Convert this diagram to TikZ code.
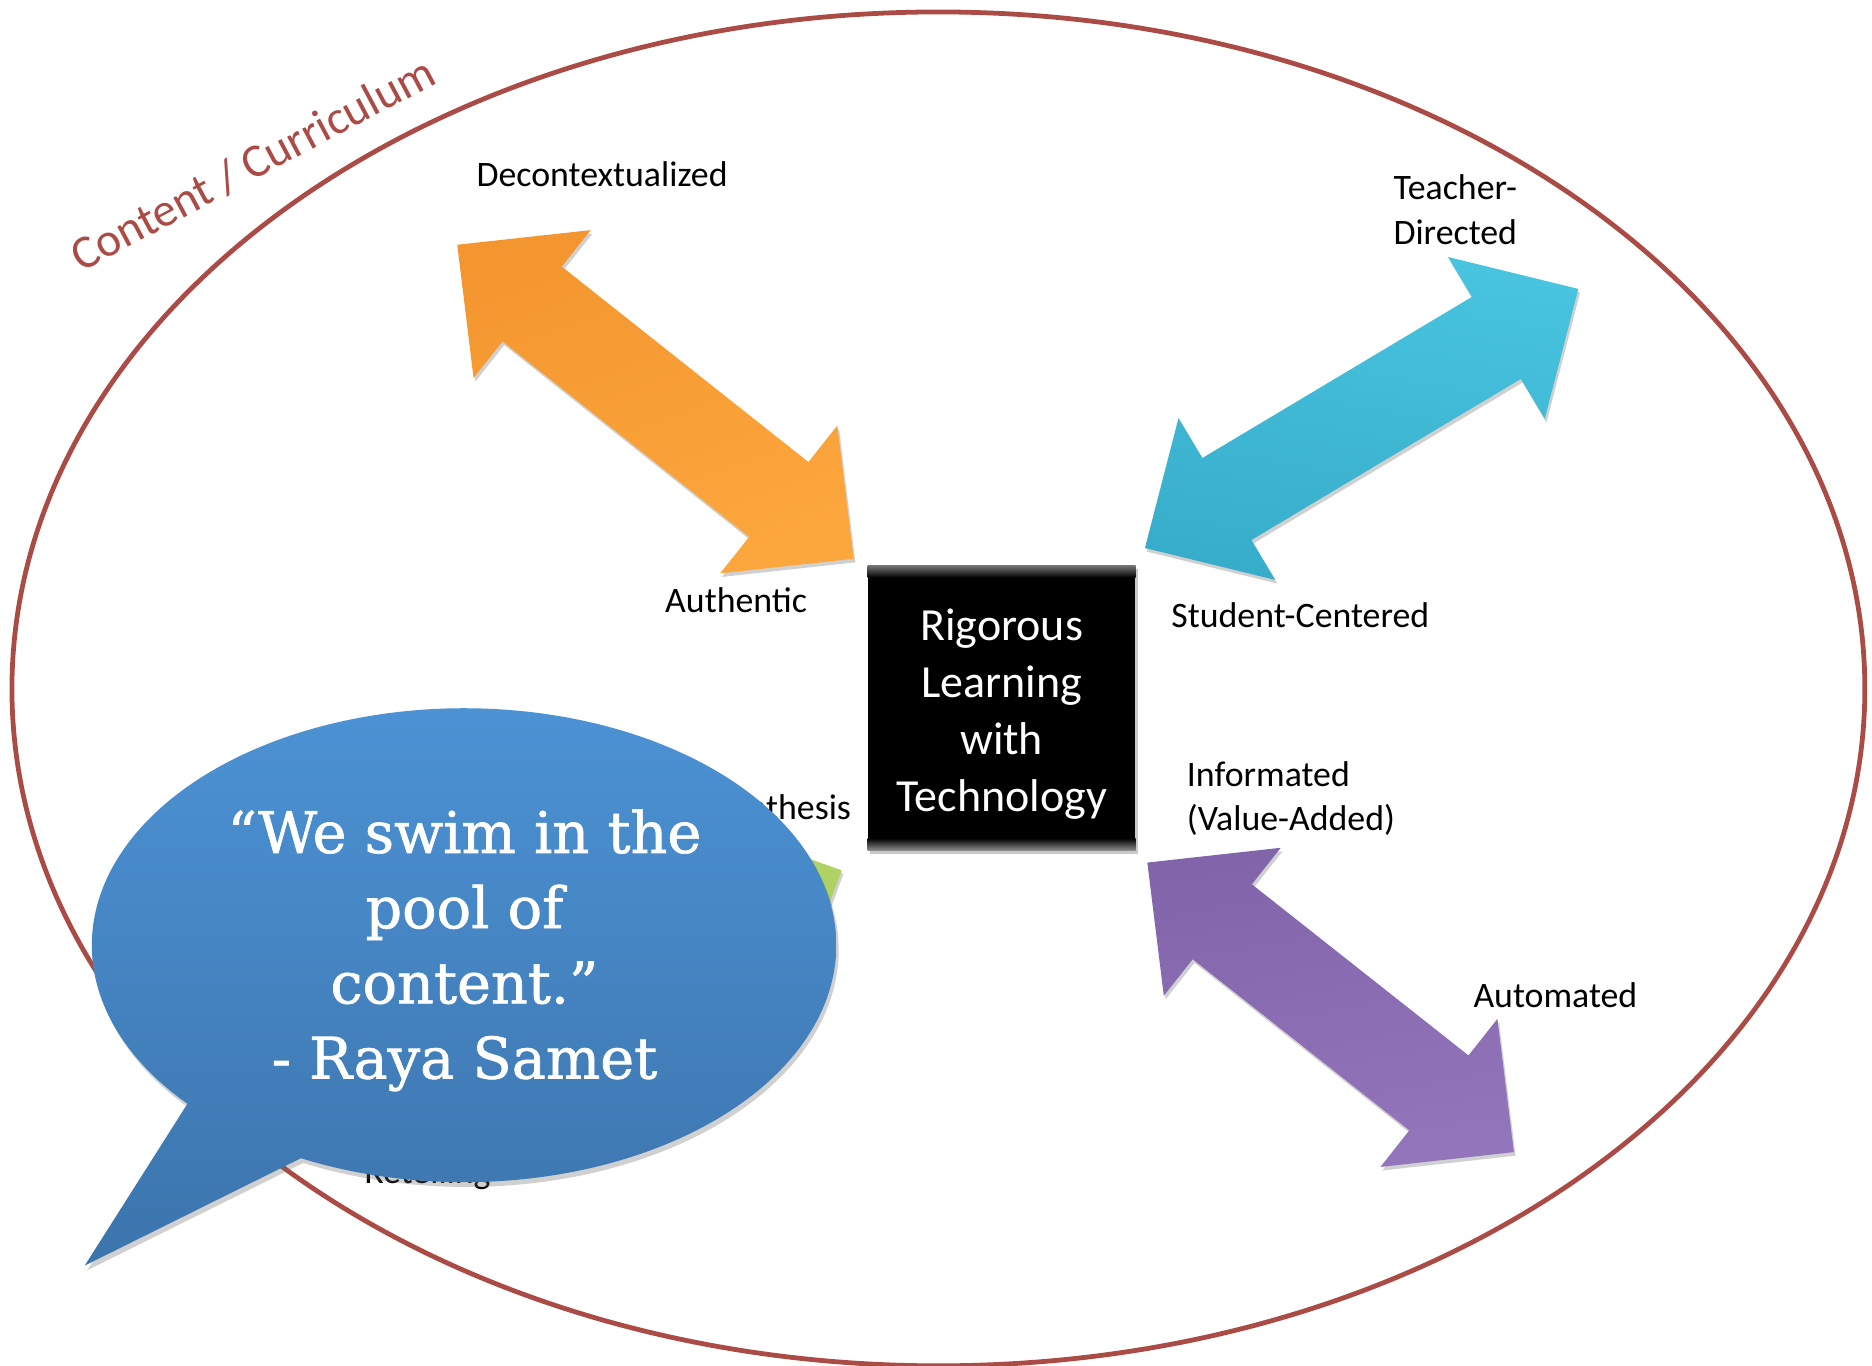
\documentclass[tikz,border=0pt]{standalone}
\usepackage{fontspec}
\setmainfont{Carlito}
\newfontfamily\quotefont[FakeBold=1.2]{DejaVu Serif}
\usetikzlibrary{calc,shadows}
\definecolor{rimred}{HTML}{AA4B46}
\definecolor{orgA}{HTML}{F4962F}
\definecolor{orgB}{HTML}{FCA73D}
\definecolor{cyaA}{HTML}{48C4DF}
\definecolor{cyaB}{HTML}{37ADCA}
\definecolor{purA}{HTML}{8264AA}
\definecolor{purB}{HTML}{9275BA}
\definecolor{grnA}{HTML}{B3D468}
\definecolor{grnB}{HTML}{9DC552}
\definecolor{bubA}{HTML}{4C92D4}
\definecolor{bubB}{HTML}{3C74AC}
\newcommand{\dblarrow}[5]{%
  \coordinate (#1h) at ($(#1)!80pt!(#2)$);
  \coordinate (#2h) at ($(#2)!80pt!(#1)$);
  \shade[top color=#3, bottom color=#4, shading angle=#5, arrowshadow]
    (#1) -- ($(#1h)!79pt!90:(#2)$) -- ($(#1h)!40pt!90:(#2)$)
    -- ($(#2h)!40pt!-90:(#1)$) -- ($(#2h)!79pt!-90:(#1)$) -- (#2)
    -- ($(#2h)!79pt!90:(#1)$) -- ($(#2h)!40pt!90:(#1)$)
    -- ($(#1h)!40pt!-90:(#2)$) -- ($(#1h)!79pt!-90:(#2)$) -- cycle;
}
\begin{document}
\begin{tikzpicture}[x=1pt,y=-1pt,
  lbl/.style={inner sep=0pt, anchor=base west, align=left, font=\fontsize{30}{37.5}\selectfont},
  arrowshadow/.style={drop shadow={shadow xshift=1.5pt, shadow yshift=-3pt, opacity=0.3, fill=black!60}}]
\useasboundingbox (0,0) rectangle (1568,1144);
\fill[white] (0,0) rectangle (1568,1144);

% outer domain
\draw[rimred, line width=4pt] (786,577) ellipse [x radius=776pt, y radius=567pt];
\node[rotate=28, anchor=base west, inner sep=0pt, text=rimred, font=\fontsize{39.5}{47}\selectfont] (domain) at (68,228) {Content / Curriculum};

% labels (multi-line labels are anchored at the baseline of their last line)
\node[lbl] (decon) at (399,156) {Decontextualized};
\node[lbl] (teacher) at (1167,205) {Teacher-\\Directed};
\node[lbl] (authentic) at (557,513) {Authentic};
\node[lbl] (student) at (981,526) {Student-Centered};
\node[lbl] (informated) at (994,696) {Informated\\(Value-Added)};
\node[lbl] (automated) at (1234,844) {Automated};
\node[lbl, anchor=base east] (synthesis) at (713,686) {Synthesis};
\node[lbl] (retelling) at (305,991) {Retelling};

% arrows
\coordinate (oA) at (383,205); \coordinate (oB) at (715,468);
\coordinate (cA) at (959,459); \coordinate (cB) at (1322,242);
\coordinate (pA) at (961,722.5); \coordinate (pB) at (1268,965);
\coordinate (gA) at (705,729); \coordinate (gB) at (322,908);
\dblarrow{oA}{oB}{orgA}{orgB}{20}
\dblarrow{cA}{cB}{cyaA}{cyaB}{-10}
\dblarrow{pA}{pB}{purA}{purB}{10}
\dblarrow{gA}{gB}{grnA}{grnB}{0}

% central box
\node[fill=black, minimum width=224pt, minimum height=238pt, inner sep=0pt,
      drop shadow={shadow xshift=2pt, shadow yshift=-3pt, opacity=0.35, fill=black!60}] (core) at (839,593) {};
\shade[top color=black!55, bottom color=black] (core.north west) rectangle ($(core.north east)+(0,10)$);
\shade[top color=black, bottom color=black!45] ($(core.south west)+(0,-10)$) rectangle (core.south east);
\node[text=white, align=center, inner sep=0pt, font=\fontsize{38.5}{47.7}\selectfont] (coretext) at (839,598) {Rigorous\\Learning\\with\\Technology};

% speech bubble
\shade[top color=bubA, bottom color=bubB,
       drop shadow={shadow xshift=2pt, shadow yshift=-4pt, opacity=0.3, fill=black!60}]
  plot[domain=138:476, samples=150, smooth] ({388.7+311.8*cos(\x)},{791.7+198.5*sin(\x)}) -- (71,1060) -- cycle;
\node[text=white, align=center, inner sep=0pt, font=\quotefont\fontsize{48}{63}\selectfont] (quote) at (389,796)
  {“We swim in the\\pool of\\content.”\\- Raya Samet};
\end{tikzpicture}
\end{document}
